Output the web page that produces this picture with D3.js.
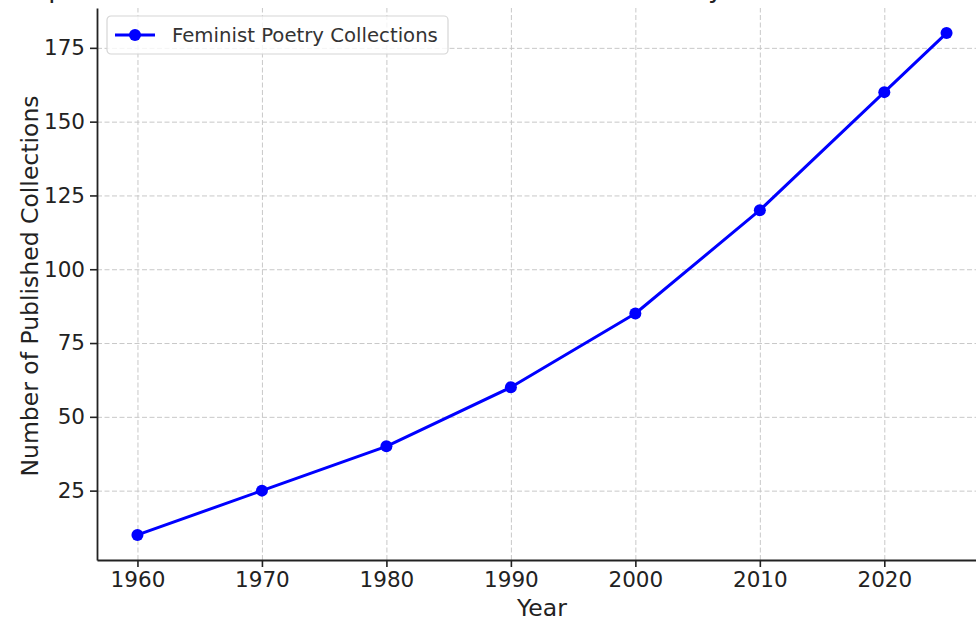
<!DOCTYPE html>
<html>
<head>
<meta charset="utf-8">
<script src="https://cdn.jsdelivr.net/npm/d3@7"></script>
<style>
  body { margin: 0; background: #fff; }
  svg { display: block; font-family: "DejaVu Sans", sans-serif; }
</style>
</head>
<body>
<svg class="chart"></svg>
<script>
// data
var years = [1960, 1970, 1980, 1990, 2000, 2010, 2020, 2025]
var collections = [10, 25, 40, 60, 85, 120, 160, 180]
var xTicks = [1960, 1970, 1980, 1990, 2000, 2010, 2020]
var yTicks = [25, 50, 75, 100, 125, 150, 175]
var seriesName = "Feminist Poetry Collections"
var title = "Impact of the Feminist Movement on Published Poetry Collections Over the Years"

var width = 976,
    height = 621,
    margin = { top: 8, right: -11, bottom: 61, left: 97 }

var svg = d3.select(".chart")
    .attr("width", width)
    .attr("height", height)

var xScale = d3.scaleLinear()
    .domain([1956.75, 2028.25])
    .range([margin.left, width - margin.right])
var yScale = d3.scaleLinear()
    .domain([1.5, 188.5])
    .range([height - margin.bottom, margin.top])

// grid
svg.append("g")
    .attr("class", "grid x")
    .attr("transform", `translate(0,${height - margin.bottom})`)
    .call(d3.axisBottom(xScale).tickValues(xTicks).tickSize(-(height - margin.bottom - margin.top)).tickFormat(""))
    .call(g => g.select(".domain").remove())
svg.append("g")
    .attr("class", "grid y")
    .attr("transform", `translate(${margin.left},0)`)
    .call(d3.axisLeft(yScale).tickValues(yTicks).tickSize(-(width - margin.right - margin.left)).tickFormat(""))
    .call(g => g.select(".domain").remove())
svg.selectAll(".grid line")
    .attr("stroke", "#c8c8c8")
    .attr("stroke-width", 1)
    .attr("stroke-dasharray", "5,2.5")

// line + markers
var line = d3.line()
    .x((d, i) => xScale(years[i]))
    .y(d => yScale(d))

svg.append("path")
    .datum(collections)
    .attr("fill", "none")
    .attr("stroke", "#0000ff")
    .attr("stroke-width", 3)
    .attr("stroke-linejoin", "round")
    .attr("d", line)

svg.append("g")
    .selectAll("circle")
    .data(collections)
    .join("circle")
    .attr("cx", (d, i) => xScale(years[i]))
    .attr("cy", d => yScale(d))
    .attr("r", 6)
    .attr("fill", "#0000ff")

// axes
var xAxis = svg.append("g")
    .attr("transform", `translate(0,${height - margin.bottom})`)
    .call(d3.axisBottom(xScale).tickValues(xTicks).tickFormat(d3.format("d")).tickSize(7).tickPadding(5).tickSizeOuter(0))
var yAxis = svg.append("g")
    .attr("transform", `translate(${margin.left},0)`)
    .call(d3.axisLeft(yScale).tickValues(yTicks).tickSize(7).tickPadding(5).tickSizeOuter(0))

xAxis.attr("font-family", "DejaVu Sans").attr("font-size", 21.5)
yAxis.attr("font-family", "DejaVu Sans").attr("font-size", 21.5)
svg.selectAll(".domain").attr("stroke", "#222").attr("stroke-width", 1.8)
xAxis.selectAll(".tick line").attr("stroke", "#222").attr("stroke-width", 1.6)
yAxis.selectAll(".tick line").attr("stroke", "#222").attr("stroke-width", 1.6)
svg.selectAll(".tick text")
    .attr("fill", "#222")
    .style("font-family", "DejaVu Sans")
    .style("font-size", "21.5px")

// axis labels
svg.append("text")
    .attr("x", (xScale.range()[0] + xScale.range()[1]) / 2)
    .attr("y", 616)
    .attr("text-anchor", "middle")
    .attr("fill", "#222")
    .style("font-size", "23.5px")
    .text("Year")

svg.append("text")
    .attr("transform", `translate(30,${(yScale.range()[0] + yScale.range()[1]) / 2 + 2}) rotate(-90)`)
    .attr("text-anchor", "middle")
    .attr("dy", "0.35em")
    .attr("fill", "#222")
    .style("font-size", "23.5px")
    .text("Number of Published Collections")

// title, mostly cut off by the top edge
svg.append("text")
    .attr("x", (xScale.range()[0] + xScale.range()[1]) / 2 + 3)
    .attr("y", -3)
    .attr("text-anchor", "middle")
    .attr("fill", "#222")
    .style("font-size", "26.2px")
    .text(title)

// legend
var legend = svg.append("g").attr("transform", "translate(107,16)")
legend.append("rect")
    .attr("width", 341)
    .attr("height", 38)
    .attr("rx", 4)
    .attr("fill", "#fff")
    .attr("fill-opacity", 0.8)
    .attr("stroke", "#d6d6d6")
    .attr("stroke-width", 1.2)
legend.append("line")
    .attr("x1", 8).attr("x2", 48)
    .attr("y1", 19).attr("y2", 19)
    .attr("stroke", "#0000ff")
    .attr("stroke-width", 3)
legend.append("circle")
    .attr("cx", 28).attr("cy", 19).attr("r", 6)
    .attr("fill", "#0000ff")
legend.append("text")
    .attr("x", 65).attr("y", 19)
    .attr("dy", "0.35em")
    .attr("fill", "#333")
    .style("font-size", "19.7px")
    .text(seriesName)
</script>
</body>
</html>
